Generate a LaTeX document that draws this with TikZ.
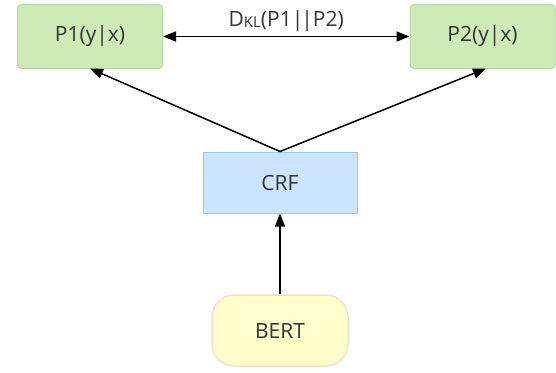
\documentclass[tikz,border=0pt]{standalone}
\usepackage{fontspec}
\setmainfont{Open Sans}
\usetikzlibrary{arrows.meta}
\definecolor{gfill}{HTML}{CDEBB7}
\definecolor{gline}{HTML}{B3D9A0}
\definecolor{bfill}{HTML}{CCE5FF}
\definecolor{bline}{HTML}{9CC5EE}
\definecolor{yfill}{HTML}{FFFFCC}
\definecolor{yline}{HTML}{FFDCC8}
\definecolor{txt}{HTML}{333333}
\tikzset{
  every node/.style={font=\fontsize{21}{24}\selectfont, text=txt},
  gbox/.style={draw=gline, fill=gfill, line width=1pt, rounded corners=4pt, minimum width=145pt, minimum height=64pt, inner sep=0pt},
  bbox/.style={draw=bline, fill=bfill, line width=1pt, minimum width=154pt, minimum height=61pt, inner sep=0pt},
  ybox/.style={draw=yline, fill=yfill, line width=1.5pt, rounded corners=22pt, minimum width=136pt, minimum height=71pt, inner sep=0pt},
  conn/.style={line width=1.5pt, -{Triangle[length=13pt,width=10pt]}},
}
\begin{document}
\begin{tikzpicture}[x=1pt,y=-1pt]
\useasboundingbox (0,0) rectangle (556,372);
\node[gbox] (p1) at (90,36.5) {P1(y|x)};
\node[gbox] (p2) at (482.5,36.5) {P2(y|x)};
\node[bbox] (crf) at (280,182.5) {CRF};
\node[ybox] (bert) at (280,330.5) {BERT};
\coordinate (t1) at (90,68.5);
\coordinate (t2) at (486,68.5);
\draw[line width=1.5pt, {Triangle[length=13pt,width=10pt]}-{Triangle[length=13pt,width=10pt]}] (p1.east) -- node[above=1pt] {D\raisebox{-1pt}{\fontsize{15}{16}\selectfont KL}(P1|\kern-2pt|P2)} (p2.west);
\draw[conn] (crf.north) -- (t1);
\draw[conn] (crf.north) -- (t2);
\draw[conn] (bert.north) -- (crf.south);
\end{tikzpicture}
\end{document}
